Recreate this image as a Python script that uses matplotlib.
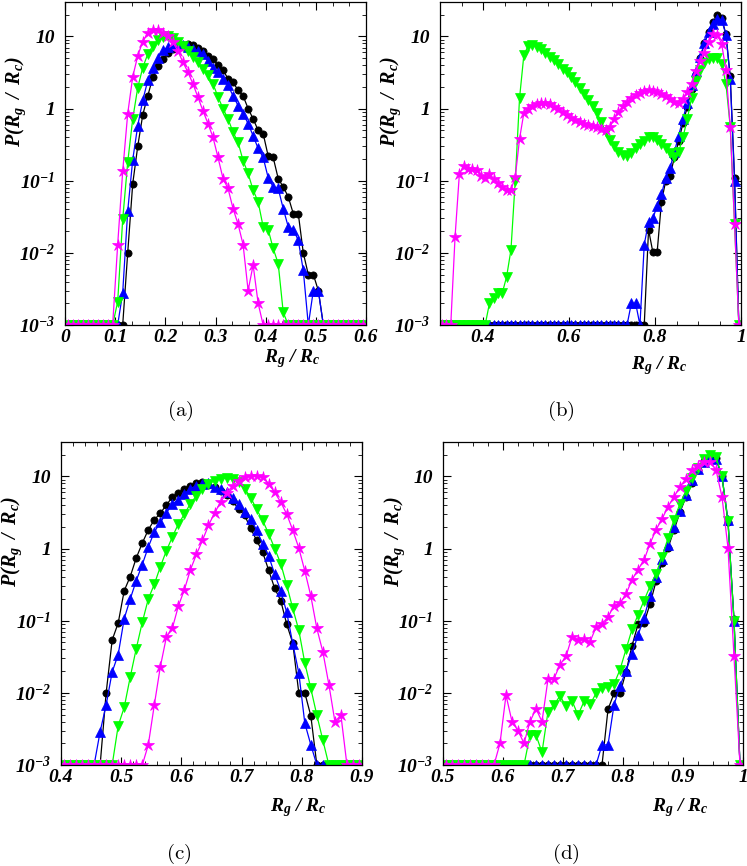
import numpy as np
import matplotlib
matplotlib.use('Agg')
import matplotlib.pyplot as plt
from matplotlib.ticker import (AutoMinorLocator, LogLocator,
                               NullFormatter, MultipleLocator, FuncFormatter)

plt.rcParams['font.family'] = 'Liberation Serif'
plt.rcParams['font.weight'] = 'bold'
plt.rcParams['font.style'] = 'italic'
plt.rcParams['mathtext.fontset'] = 'custom'
plt.rcParams['mathtext.rm'] = 'Liberation Serif:bold:italic'
plt.rcParams['mathtext.it'] = 'Liberation Serif:bold:italic'
plt.rcParams['mathtext.bf'] = 'Liberation Serif:bold:italic'

# ---------------- panel (a): bins 0.005 ... 0.595 ----------------
x_a = np.round(np.arange(0.005, 0.6, 0.01), 3)
black_a = [0, 0, 0, 0, 0, 0, 0, 0, 0, 0,
           0, 0, 0.010, 0.091, 0.30, 0.82, 1.5, 2.7, 3.9, 4.9,
           5.9, 6.6, 7.2, 7.6, 7.8, 7.6, 6.9, 6.3, 5.4, 4.9,
           4.0, 3.4, 2.6, 2.3, 1.8, 1.5, 1.0, 0.72, 0.50, 0.45,
           0.22, 0.21, 0.107, 0.082, 0.060, 0.035, 0.035, 0.010, 0.005, 0.005,
           0.003, 0, 0, 0, 0, 0, 0, 0, 0, 0]
blue_a = [0, 0, 0, 0, 0, 0, 0, 0, 0, 0,
          0, 0.0028, 0.038, 0.195, 0.58, 1.3, 2.45, 3.7, 5.1, 6.4,
          7.1, 7.5, 7.6, 7.5, 7.2, 6.8, 6.3, 5.7, 4.5, 3.7,
          3.2, 2.6, 2.1, 1.5, 1.1, 0.85, 0.62, 0.42, 0.28, 0.21,
          0.11, 0.082, 0.078, 0.041, 0.023, 0.021, 0.015, 0.0057, 0, 0.003,
          0.003, 0, 0, 0, 0, 0, 0, 0, 0, 0]
green_a = [0, 0, 0, 0, 0, 0, 0, 0, 0, 0,
           0.0021, 0.029, 0.18, 0.72, 1.95, 3.7, 5.7, 7.4, 8.9, 9.8,
           10, 9.5, 8.5, 7.4, 6.3, 5.2, 4.4, 3.5, 2.9, 2.2,
           1.45, 1.0, 0.72, 0.47, 0.34, 0.19, 0.126, 0.074, 0.051, 0.023,
           0.021, 0.0115, 0.0071, 0.0015, 0, 0, 0, 0, 0, 0,
           0, 0, 0, 0, 0, 0, 0, 0, 0, 0]
magenta_a = [0, 0, 0, 0, 0, 0, 0, 0, 0, 0,
             0.013, 0.135, 0.85, 2.75, 5.4, 8.5, 11.2, 12.3, 12.3, 11.2,
             10, 8.3, 6.3, 4.4, 3.2, 2.2, 1.44, 0.93, 0.62, 0.40,
             0.21, 0.107, 0.078, 0.041, 0.025, 0.013, 0.003, 0.0068, 0.002, 0,
             0, 0, 0, 0, 0, 0, 0, 0, 0, 0,
             0, 0, 0, 0, 0, 0, 0, 0, 0, 0]

# ---------------- panel (b): bins 0.305 ... 0.995 ----------------
x_b = np.round(np.arange(0.305, 1.0, 0.01), 3)
black_b = [0, 0, 0, 0, 0, 0, 0, 0, 0, 0,
           0, 0, 0, 0, 0, 0, 0, 0, 0, 0,
           0, 0, 0, 0, 0, 0, 0, 0, 0, 0,
           0, 0, 0, 0, 0, 0, 0, 0, 0, 0,
           0, 0, 0, 0, 0, 0, 0, 0, 0.021, 0.0102,
           0.0102, 0.051, 0.10, 0.117, 0.21, 0.35, 0.63, 1.05, 1.86, 3.0,
           5.0, 8.1, 11.7, 16, 19.5, 18, 10.7, 2.8, 0.11, 0]
blue_b = [0, 0, 0, 0, 0, 0, 0, 0, 0, 0,
          0, 0, 0, 0, 0, 0, 0, 0, 0, 0,
          0, 0, 0, 0, 0, 0, 0, 0, 0, 0,
          0, 0, 0, 0, 0, 0, 0, 0, 0, 0,
          0, 0, 0, 0, 0.002, 0.002, 0, 0.013, 0.027, 0.03,
          0.045, 0.065, 0.11, 0.15, 0.25, 0.42, 0.72, 1.2, 2.1, 3.3,
          5.2, 8.0, 11.5, 15, 17.5, 17, 10.5, 2.6, 0.1, 0]
green_b = [0, 0, 0, 0, 0, 0, 0, 0, 0, 0,
           0, 0.002, 0.0024, 0.0028, 0.0028, 0.0047, 0.011, 0.1, 1.4, 5.5,
           7.4, 7.6, 7.2, 6.6, 5.9, 5.2, 4.7, 4.1, 3.5, 3.2,
           2.75, 2.3, 1.95, 1.6, 1.3, 1.07, 0.87, 0.66, 0.48, 0.37,
           0.30, 0.25, 0.23, 0.22, 0.245, 0.28, 0.32, 0.36, 0.40, 0.40,
           0.37, 0.32, 0.28, 0.24, 0.21, 0.25, 0.40, 0.71, 1.4, 2.4,
           3.4, 4.3, 4.8, 5.0, 5.0, 4.2, 2.2, 0.56, 0.025, 0]
magenta_b = [0, 0, 0, 0.0166, 0.123, 0.16, 0.145, 0.145, 0.14, 0.118,
             0.108, 0.125, 0.105, 0.092, 0.082, 0.074, 0.075, 0.112, 0.38, 0.87,
             0.98, 1.07, 1.15, 1.2, 1.2, 1.15, 1.05, 0.98, 0.9, 0.82,
             0.75, 0.70, 0.66, 0.62, 0.60, 0.58, 0.55, 0.52, 0.50, 0.56,
             0.72, 0.9, 1.07, 1.25, 1.4, 1.55, 1.65, 1.75, 1.78, 1.75,
             1.7, 1.6, 1.48, 1.35, 1.25, 1.2, 1.35, 1.7, 2.2, 3.3,
             4.5, 5.9, 8.3, 10.7, 10.5, 7.9, 3.4, 0.56, 0.025, 0]

# ---------------- panel (c): bins 0.405 ... 0.895 ----------------
x_c = np.round(np.arange(0.405, 0.9, 0.01), 3)
black_c = [0, 0, 0, 0, 0, 0, 0, 0.01, 0.054, 0.093,
           0.26, 0.41, 0.74, 1.19, 1.82, 2.5, 3.1, 4.0, 5.2, 5.9,
           6.8, 7.4, 8.0, 8.5, 7.6, 7.1, 6.3, 5.6, 4.6, 3.5,
           2.9, 1.9, 1.3, 0.89, 0.50, 0.28, 0.19, 0.089, 0.049, 0.01,
           0.01, 0.0048, 0, 0, 0, 0, 0, 0, 0, 0]
blue_c = [0, 0, 0, 0, 0, 0, 0.0029, 0.0068, 0.0195, 0.034,
          0.107, 0.20, 0.36, 0.60, 1.05, 1.7, 2.3, 3.1, 4.2, 4.7,
          5.75, 6.8, 7.4, 7.9, 8.1, 7.2, 6.6, 6.0, 5.1, 4.2,
          3.2, 2.6, 1.8, 1.16, 0.79, 0.44, 0.26, 0.13, 0.048, 0.019,
          0.0038, 0.0019, 0, 0, 0, 0, 0, 0, 0, 0]
green_c = [0, 0, 0, 0, 0, 0, 0, 0, 0, 0.0035,
           0.0063, 0.0166, 0.041, 0.095, 0.20, 0.32, 0.56, 0.93, 1.45, 2.2,
           3.0, 4.2, 5.4, 6.8, 7.9, 8.7, 9.3, 9.5, 9.1, 8.3,
           6.8, 5.1, 3.5, 2.45, 1.6, 1.0, 0.62, 0.31, 0.148, 0.074,
           0.026, 0.0115, 0.0049, 0.0022, 0, 0, 0, 0, 0, 0]
magenta_c = [0, 0, 0, 0, 0, 0, 0, 0, 0, 0,
             0, 0, 0, 0, 0.0019, 0.0068, 0.023, 0.059, 0.079, 0.16,
             0.27, 0.51, 0.83, 1.3, 2.1, 3.1, 4.4, 5.9, 7.4, 8.7,
             9.8, 10.2, 10.2, 9.8, 7.9, 6.0, 4.4, 3.0, 1.8, 1.02,
             0.49, 0.22, 0.078, 0.037, 0.013, 0.004, 0.0049, 0, 0, 0]

# ---------------- panel (d): bins 0.505 ... 0.995 ----------------
x_d = np.round(np.arange(0.505, 1.0, 0.01), 3)
black_d = [0, 0, 0, 0, 0, 0, 0, 0, 0, 0,
           0, 0, 0, 0, 0, 0, 0, 0, 0, 0,
           0, 0, 0, 0, 0, 0, 0, 0.0059, 0.0098, 0.0098,
           0.0195, 0.045, 0.089, 0.093, 0.17, 0.35, 0.63, 1.02, 1.8, 3.2,
           5.2, 8.0, 12.3, 16.2, 18.6, 17.8, 10, 2.3, 0.104, 0]
blue_d = [0, 0, 0, 0, 0, 0, 0, 0, 0, 0,
          0, 0, 0, 0, 0, 0, 0, 0, 0, 0,
          0, 0, 0, 0, 0, 0, 0.0019, 0.0019, 0.0068, 0.0126,
          0.02, 0.035, 0.063, 0.11, 0.22, 0.40, 0.71, 1.12, 2.0, 3.3,
          5.6, 8.9, 12.6, 15.8, 17.8, 17.4, 10, 2.5, 0.1, 0]
green_d = [0, 0, 0, 0, 0, 0, 0, 0, 0, 0,
           0, 0, 0, 0, 0.0026, 0.0026, 0.0015, 0.0055, 0.0068, 0.0091,
           0.0065, 0.0078, 0.0049, 0.0076, 0.0069, 0.0098, 0.0115, 0.012, 0.0132, 0.021,
           0.04, 0.076, 0.12, 0.19, 0.30, 0.45, 0.76, 1.4, 2.5, 4.2,
           6.3, 9.5, 13.2, 17.4, 19.5, 18.6, 10, 2.4, 0.1, 0]
magenta_d = [0, 0, 0, 0, 0, 0, 0, 0, 0, 0.002,
             0.0093, 0.004, 0.003, 0.002, 0.004, 0.006, 0.004, 0.0155, 0.0158, 0.0245,
             0.032, 0.06, 0.054, 0.055, 0.051, 0.081, 0.091, 0.112, 0.162, 0.174,
             0.234, 0.37, 0.51, 0.69, 1.17, 1.82, 2.57, 3.8, 5.2, 7.2,
             9.3, 12.3, 14.1, 15.8, 15.8, 12.3, 5.2, 1.02, 0.032, 0]

y_ticks = [1e-3, 1e-2, 1e-1, 1, 10]
y_tick_labels = [r'$10^{-3}$', r'$10^{-2}$', r'$10^{-1}$', '1', '10']
FLOOR = 1e-3

styles = [('black', 'o', 5.2), ('#0000ff', '^', 6.5), ('#00ff00', 'v', 7.5), ('#ff00ff', '*', 9.0)]

W, H = 747, 866
fig = plt.figure(figsize=(W / 100, H / 100), dpi=100)


def px_axes(l, t, r, b):
    return fig.add_axes([l / W, 1 - b / H, (r - l) / W, (b - t) / H])


panels = [
    dict(box=(65, 2, 366, 325), x=x_a, ys=[black_a, blue_a, green_a, magenta_a],
         xlim=(0, 0.6), major=0.1, nminor=3, xl=(0.755, -0.105), cap=(180, 411), tag='(a)'),
    dict(box=(440, 2, 741, 325), x=x_b, ys=[black_b, blue_b, green_b, magenta_b],
         xlim=(0.3, 1.0), major=0.2, nminor=4, xl=(0.728, -0.126), cap=(561, 411), tag='(b)'),
    dict(box=(61, 442, 362, 765), x=x_c, ys=[black_c, blue_c, green_c, magenta_c],
         xlim=(0.4, 0.9), major=0.1, nminor=5, xl=(0.789, -0.133), cap=(179, 854), tag='(c)'),
    dict(box=(443, 442, 743, 765), x=x_d, ys=[black_d, blue_d, green_d, magenta_d],
         xlim=(0.5, 1.0), major=0.1, nminor=4, xl=(0.79, -0.133), cap=(566, 854), tag='(d)'),
]

fmt = FuncFormatter(lambda v, p: ('%g' % round(v, 6)))

for P in panels:
    ax = px_axes(*P['box'])
    for vals, (c, m, ms) in zip(P['ys'], styles):
        v = np.asarray(vals, dtype=float)
        assert len(v) == len(P['x'])
        yv = np.where(v > 0, v, FLOOR)
        ax.plot(P['x'], yv, color=c, lw=0.9, marker=m, ms=ms, mfc=c, mec=c, mew=0.5)
    ax.set_yscale('log')
    ax.set_ylim(1e-3, 30)
    ax.set_xlim(*P['xlim'])
    ax.xaxis.set_major_locator(MultipleLocator(P['major']))
    ax.xaxis.set_minor_locator(AutoMinorLocator(P['nminor']))
    ax.xaxis.set_major_formatter(fmt)
    ax.set_yticks(y_ticks)
    ax.set_yticklabels(y_tick_labels)
    ax.yaxis.set_minor_locator(LogLocator(base=10, subs=np.arange(2, 10) * 1.0, numticks=20))
    ax.yaxis.set_minor_formatter(NullFormatter())
    ax.tick_params(which='both', direction='in', top=True, right=True)
    ax.tick_params(which='major', length=5.5, width=0.8, labelsize=14)
    ax.tick_params(axis='y', which='major', pad=7)
    ax.tick_params(axis='x', which='major', pad=3)
    ax.tick_params(which='minor', length=2.8, width=0.6)
    for s in ax.spines.values():
        s.set_linewidth(0.9)
    ax.text(P['xl'][0], P['xl'][1], r'$R_g\ /\ R_c$', transform=ax.transAxes,
            ha='center', va='center', fontsize=14)
    ax.text(-0.162, 0.69, r'$P(R_g\;\;/\;\;R_c)$', transform=ax.transAxes, rotation=90,
            ha='center', va='center', fontsize=14.5)
    fig.text(P['cap'][0] / W, 1 - P['cap'][1] / H, r'$\mathrm{' + P['tag'] + '}$',
             ha='center', va='center', fontsize=15, math_fontfamily='cm')

fig.savefig('out.png', dpi=100)
